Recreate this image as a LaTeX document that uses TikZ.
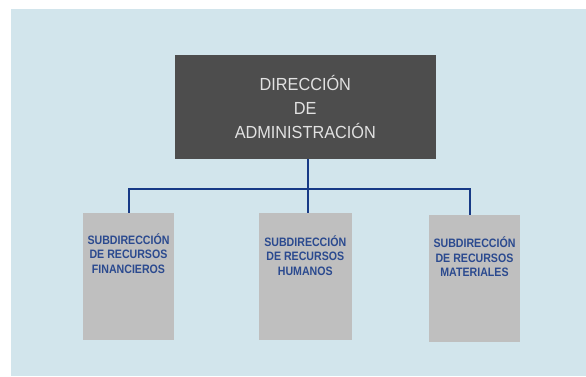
\documentclass[tikz,border=0pt]{standalone}
\usepackage{fontspec}
\setmainfont{Liberation Sans}
\newfontfamily\dirfont{Liberation Sans}[FakeStretch=0.93]
\newfontfamily\subfont{Liberation Sans}[FakeStretch=0.87]
\usetikzlibrary{positioning}
\definecolor{colPanel}{HTML}{D2E5EC}
\definecolor{colDir}{HTML}{4D4D4D}
\definecolor{colDirText}{HTML}{E2E2E2}
\definecolor{colSub}{HTML}{BFBFBF}
\definecolor{colSubText}{HTML}{2B4A8F}
\definecolor{colLine}{HTML}{173A86}

\begin{document}
\begin{tikzpicture}[
  x=1pt, y=1pt,
  every node/.style={align=center},
  dirbox/.style={
    draw=none, fill=colDir, text=colDirText,
    font=\dirfont\fontsize{17.5}{24}\selectfont,
    minimum width=260.7pt, minimum height=104pt, inner sep=0pt
  },
  subbox/.style={
    draw=none, fill=colSub,
    minimum width=91pt, minimum height=127pt, inner sep=0pt
  },
  sublabel/.style={
    text=colSubText, inner sep=0pt, anchor=north,
    font=\subfont\bfseries\fontsize{12.2}{14.3}\selectfont
  },
  link/.style={draw=colLine, line width=2pt},
]

%% background panel and page size
\useasboundingbox (0,0) rectangle (586,376);
\fill[colPanel] (11,0) rectangle (586,367);

%% top: direction
\node[dirbox] (dir) at (305.3,269) {DIRECCIÓN\\DE\\ADMINISTRACIÓN};

%% bottom: three sub-directions
\node[subbox, label={[sublabel, yshift=-21pt]north:SUBDIRECCIÓN\\DE RECURSOS\\FINANCIEROS}]
  (sfin) at (128.5,99.7) {};
\node[subbox, minimum width=92.7pt, label={[sublabel, yshift=-23pt]north:SUBDIRECCIÓN\\DE RECURSOS\\HUMANOS}]
  (shum) at (305.3,99.7) {};
\node[subbox, label={[sublabel, yshift=-22pt]north:SUBDIRECCIÓN\\DE RECURSOS\\MATERIALES}]
  (smat) at (474.5,97.5) {};

%% connectors
\draw[link] ([xshift=2.4pt]dir.south) -- ++(0,-30) -| (sfin.north);
\draw[link] ([xshift=2.4pt]dir.south) -- ++(0,-30) -| ([xshift=2.4pt]shum.north);
\draw[link] ([xshift=2.4pt]dir.south) -- ++(0,-30) -| ([xshift=-4.5pt]smat.north);

\end{tikzpicture}
\end{document}
